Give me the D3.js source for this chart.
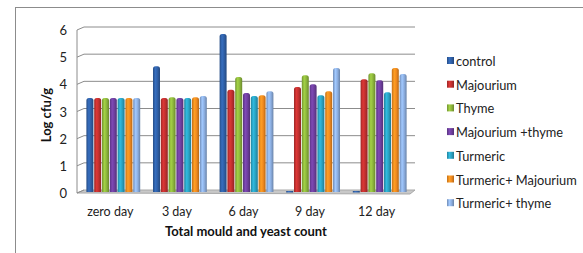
<!DOCTYPE html>
<html>
<head>
<meta charset="utf-8">
<script src="https://cdn.jsdelivr.net/npm/d3@7"></script>
<style>
  body { margin: 0; background: #fff; }
  svg { display: block; font-family: Lato, "Open Sans", sans-serif; }
</style>
</head>
<body>
<svg id="chart" width="583" height="253"></svg>
<script>
const days = ["zero day", "3 day", "6 day", "9 day", "12 day"];
const treatments = ["control", "Majourium", "Thyme", "Majourium +thyme", "Turmeric", "Turmeric+ Majourium", "Turmeric+ thyme"];
const colors = ["#2f5fa6", "#c0302f", "#8db63c", "#6e3f9e", "#2aa2c2", "#f18a1f", "#8caee0"];
// values[treatment][day]
const values = [
  [3.5, 4.67, 5.85, 0, 0],
  [3.5, 3.5, 3.8, 3.9, 4.19],
  [3.5, 3.52, 4.27, 4.33, 4.41],
  [3.5, 3.5, 3.68, 4.0, 4.15],
  [3.5, 3.5, 3.57, 3.6, 3.71],
  [3.5, 3.52, 3.6, 3.75, 4.6],
  [3.5, 3.57, 3.75, 4.6, 4.38]
];
const yTicks = [0, 1, 2, 3, 4, 5, 6];

const axisX = 77;

function main() {
  const svg = d3.select("#chart");

  // outer frame
  svg.append("rect")
    .attr("x", 15.5).attr("y", 7.5)
    .attr("width", 600).attr("height", 300)
    .attr("fill", "none").attr("stroke", "#8c8c8c");

  const x = d3.scaleBand().domain(days).range([axisX + 3, 413]).paddingInner(0.18).paddingOuter(0.09);
  const xs = d3.scaleBand().domain(treatments).range([0, x.bandwidth()]);
  const y = d3.scaleLinear().domain([0, 6]).range([193, 30]);

  defineGradients(svg);
  drawGrid(svg, x, y);
  drawBars(svg, x, xs, y);
  drawAxes(svg, x, y);
  drawLegend(svg);
}

function defineGradients(svg) {
  const defs = svg.append("defs");
  colors.forEach((c, i) => {
    const g = defs.append("linearGradient").attr("id", "g" + i)
      .attr("x1", 0).attr("x2", 1).attr("y1", 0).attr("y2", 0);
    const base = d3.color(c);
    g.append("stop").attr("offset", "0%").attr("stop-color", base.darker(0.6));
    g.append("stop").attr("offset", "35%").attr("stop-color", base.brighter(0.4));
    g.append("stop").attr("offset", "65%").attr("stop-color", base);
    g.append("stop").attr("offset", "100%").attr("stop-color", base.darker(0.8));
  });
}

function drawGrid(svg, x, y) {
  const x0 = axisX, x1 = 415, dx = 7, dy = -3;
  // floor
  svg.append("path")
    .attr("d", `M${x0},${y(0)}L${x0 + dx},${y(0) + dy}L${x1},${y(0) + dy}L${x1 - 5},${y(0) + 1}Z`)
    .attr("fill", "#c8c8c8").attr("stroke", "#a8a8a8");
  const g = svg.append("g");
  g.selectAll("line.grid")
    .data(yTicks.filter(d => d > 0))
    .join("line")
    .attr("x1", x0 + dx).attr("x2", x1)
    .attr("y1", d => y(d) + dy).attr("y2", d => y(d) + dy)
    .attr("stroke", "#8c8c8c").attr("stroke-width", 1);
  g.selectAll("line.diag")
    .data(yTicks)
    .join("line")
    .attr("x1", x0).attr("x2", x0 + dx)
    .attr("y1", d => y(d)).attr("y2", d => y(d) + dy)
    .attr("stroke", "#8c8c8c");
}

function drawBars(svg, x, xs, y) {
  const w = xs.bandwidth();
  treatments.forEach((t, i) => {
    svg.append("g")
      .selectAll("path")
      .data(days.map((d, j) => ({day: d, v: values[i][j]})))
      .join("path")
      .attr("fill", `url(#g${i})`)
      .attr("d", d => {
        const bx = x(d.day) + xs(t) + 0.4;
        const bw = w - 0.8;
        const base = y(0) - 1;
        if (d.v === 0) return `M${bx},${base - 1}h${bw}v1.5h${-bw}Z`;
        const top = y(d.v);
        const r = Math.min(2.5, bw / 2);
        return `M${bx},${base}V${top + r}Q${bx},${top} ${bx + r},${top}H${bx + bw - r}Q${bx + bw},${top} ${bx + bw},${top + r}V${base}Z`;
      });
  });
}

function drawAxes(svg, x, y) {
  svg.append("line")
    .attr("x1", axisX).attr("x2", axisX).attr("y1", y(6)).attr("y2", y(0))
    .attr("stroke", "#8c8c8c");
  svg.append("g").selectAll("text")
    .data(yTicks)
    .join("text")
    .attr("x", 67).attr("y", d => y(d) + 5)
    .attr("text-anchor", "end")
    .attr("font-size", 13).attr("fill", "#222")
    .text(d => d);

  svg.append("g").selectAll("text")
    .data(days)
    .join("text")
    .attr("x", d => x(d) + x.bandwidth() / 2 - 3)
    .attr("y", 216)
    .attr("text-anchor", "middle")
    .attr("font-size", 12.5).attr("fill", "#222")
    .text(d => d);

  svg.append("text")
    .attr("x", 246).attr("y", 236)
    .attr("text-anchor", "middle")
    .attr("font-size", 13).attr("font-weight", "bold").attr("fill", "#111")
    .text("Total mould and yeast count");

  svg.append("text")
    .attr("transform", "translate(51,115) rotate(-90)")
    .attr("text-anchor", "middle")
    .attr("font-size", 13).attr("font-weight", "bold").attr("fill", "#111")
    .text("Log cfu/g");
}

function drawLegend(svg) {
  const item = svg.append("g").selectAll("g")
    .data(treatments)
    .join("g")
    .attr("transform", (d, i) => `translate(447,${61 + i * 23.7})`);
  item.append("rect")
    .attr("x", 0).attr("y", -4).attr("width", 7).attr("height", 7)
    .attr("fill", (d, i) => `url(#g${i})`);
  item.append("text")
    .attr("x", 9).attr("y", 5)
    .attr("font-size", 12.8).attr("fill", "#222")
    .text(d => d);
}

main();
</script>
</body>
</html>
